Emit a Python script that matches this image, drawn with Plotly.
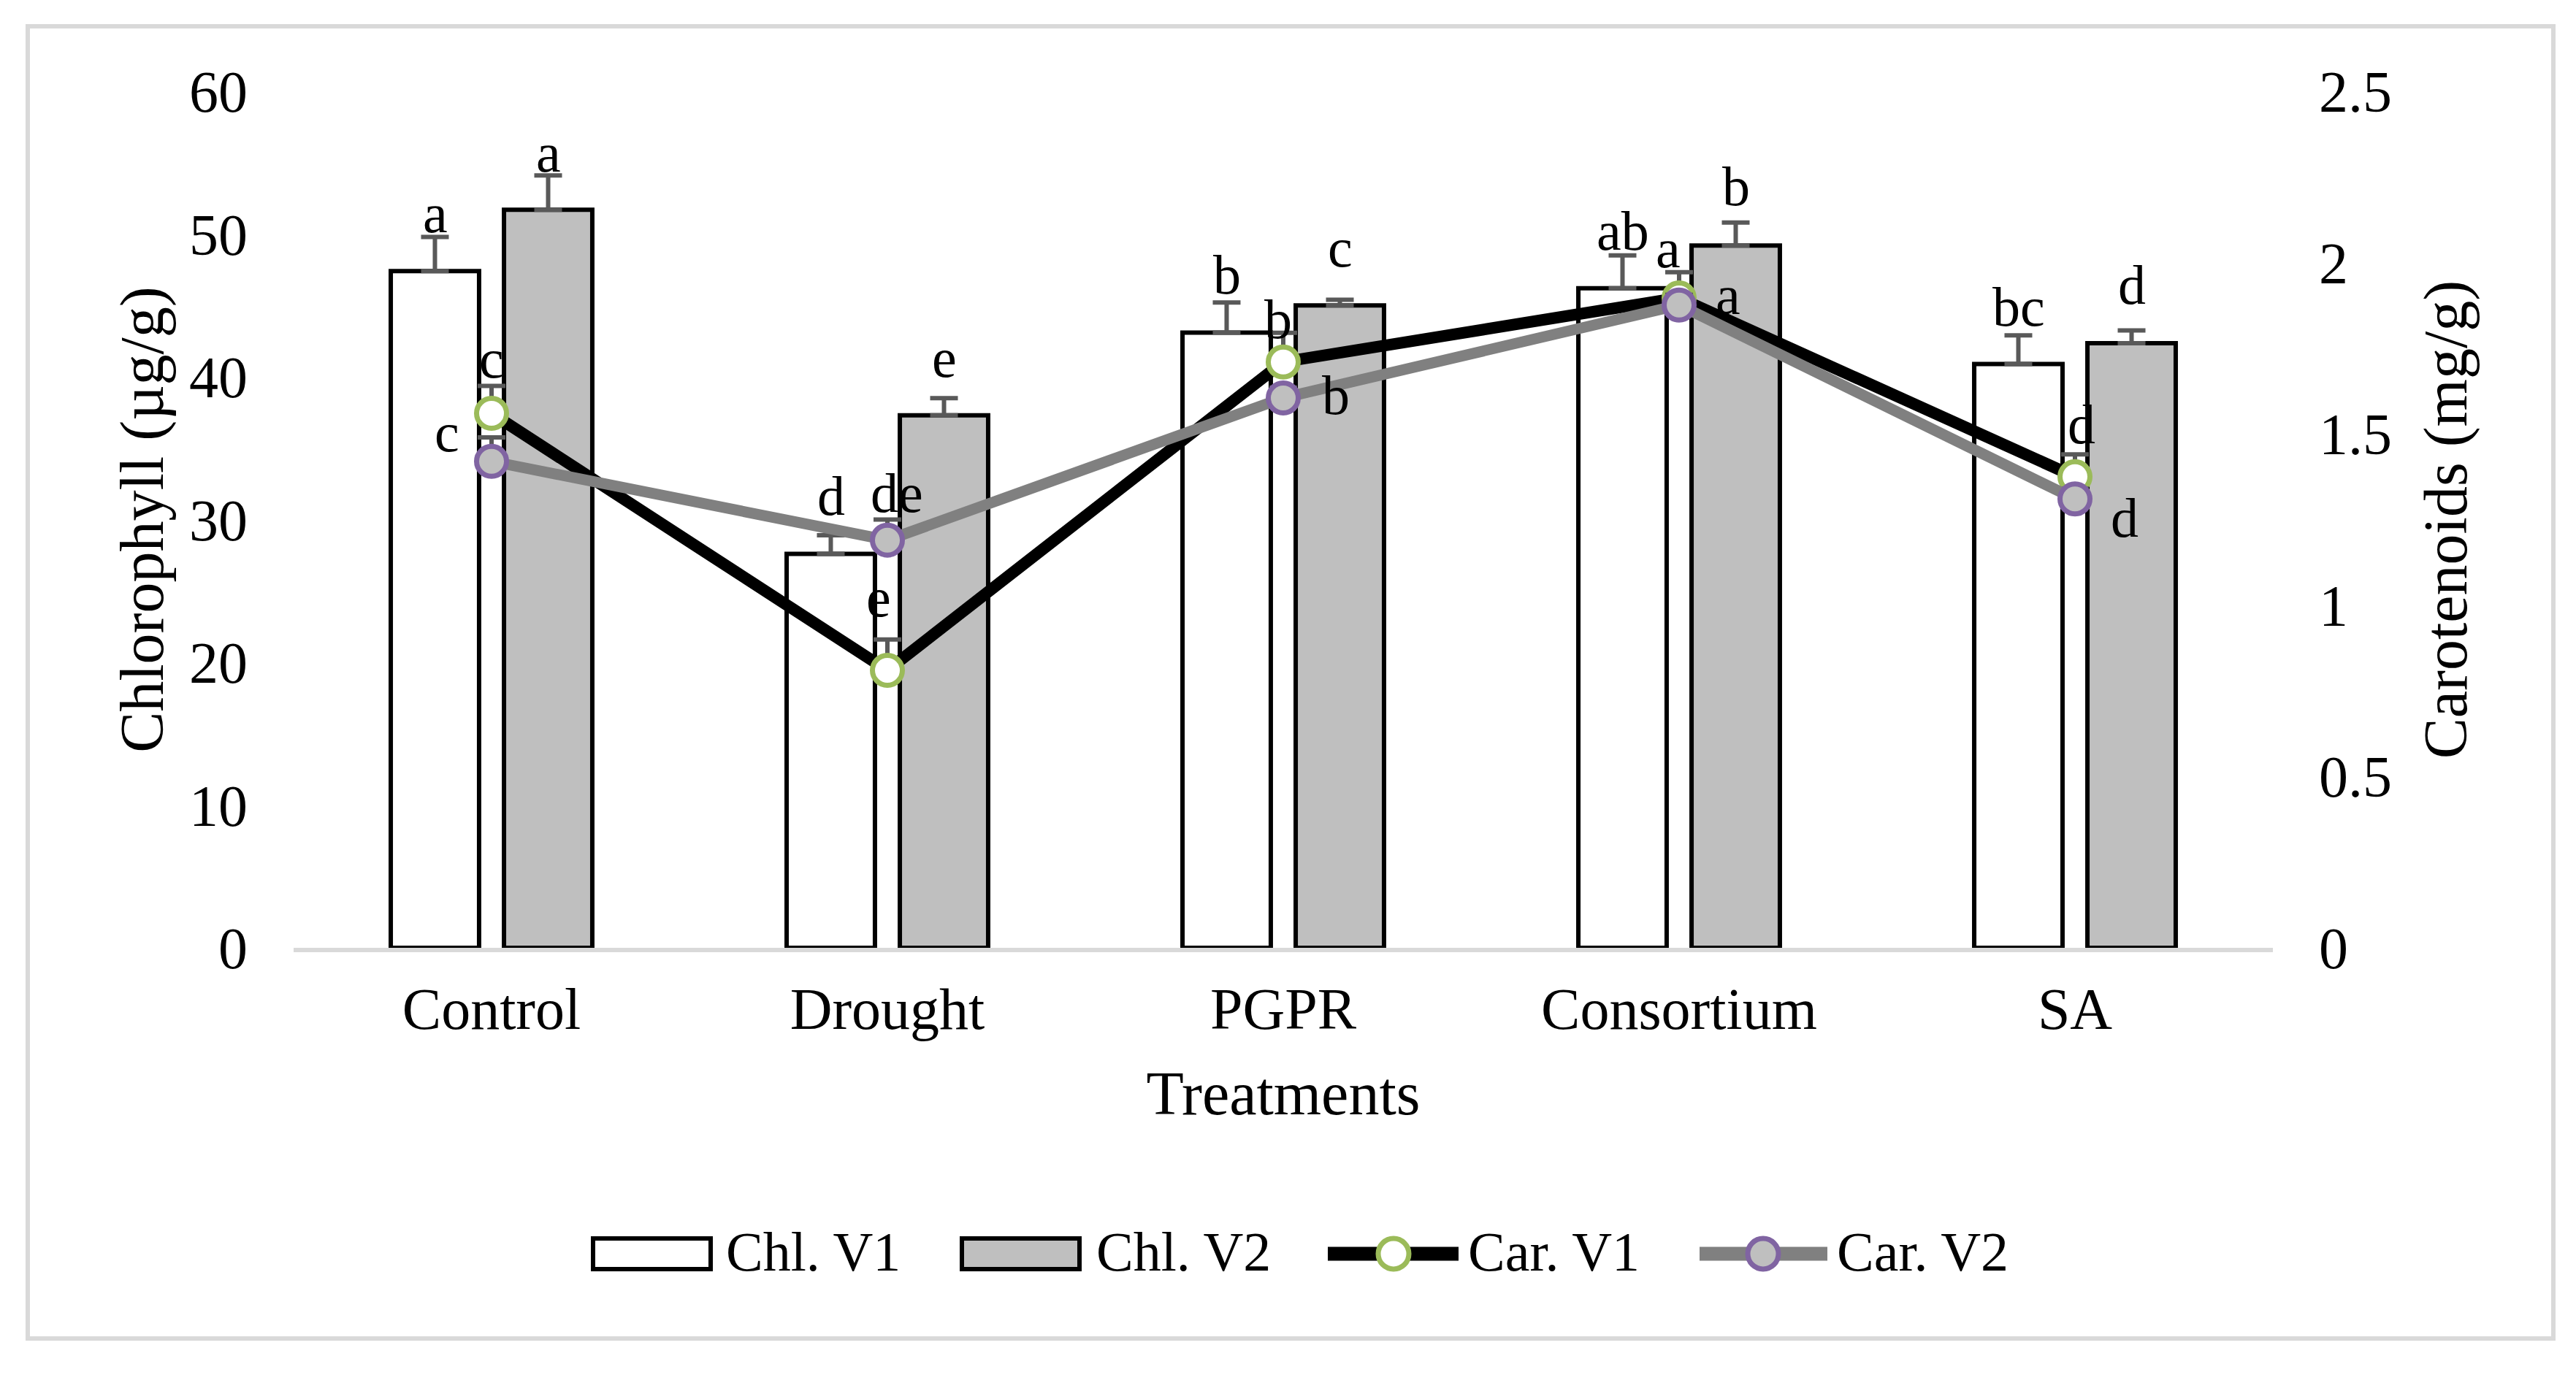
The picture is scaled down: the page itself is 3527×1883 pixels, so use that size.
import plotly.graph_objects as go

# ---------------- data ----------------
categories = ["Control", "Drought", "PGPR", "Consortium", "SA"]

chl_v1 = [47.4, 27.6, 43.1, 46.2, 40.9]
chl_v1_err = [2.4, 1.3, 2.1, 2.3, 2.0]
chl_v2 = [51.7, 37.3, 45.0, 49.2, 42.35]
chl_v2_err = [2.4, 1.2, 0.4, 1.6, 0.9]

car_v1 = [1.56, 0.81, 1.71, 1.897, 1.375]
car_v1_err = [0.08, 0.09, 0.085, 0.075, 0.065]
car_v2 = [1.42, 1.19, 1.605, 1.876, 1.31]
car_v2_err = [0.07, 0.06, 0.03, 0.03, 0.03]

chl_v1_letters = ["a", "d", "b", "ab", "bc"]
chl_v2_letters = ["a", "e", "c", "b", "d"]
car_v1_letters = ["c", "e", "b", "a", "d"]
car_v2_letters = ["c", "de", "b", "a", "d"]

left_ticks = [0, 10, 20, 30, 40, 50, 60]
right_ticks = [0, 0.5, 1, 1.5, 2, 2.5]
right_tick_text = ["0", "0.5", "1", "1.5", "2", "2.5"]

# ---------------- style / layout constants ----------------
OFF = 8  # page body margin compensation
W, H = 3527 - 2 * OFF, 1883 - 2 * OFF
PL, PR, PT, PB = 402 - OFF, 3112 - OFF, 125 - OFF, 1298 - OFF  # plot area in px
FONT = "Times New Roman, Liberation Serif, serif"
TICK_SIZE = 80
TITLE_SIZE = 84
LABEL_SIZE = 76
ERR_COLOR = "#595959"


def px_x(px):
    return (px - OFF - PL) / (PR - PL)


def px_y(py):
    return (PB - (py - OFF)) / (PB - PT)


# label pixel offsets (style)
chl_v1_gap = [7, 29, 13, 9, 14]
chl_v2_gap = [6, 30, 46, 25, 37]
car_v1_off = [(0, 66), (-12, 91), (-7, 50), (-15, 59), (9, 63)]
car_v2_off = [(-61, 31), (13, 56), (72, -5), (67, 5), (68, -35)]
BAR_OFFSET = 77.5

fig = go.Figure()

fig.add_trace(go.Bar(
    name="Chl. V1", x=categories, y=chl_v1,
    marker=dict(color="white", line=dict(color="black", width=6)),
    error_y=dict(type="data", array=chl_v1_err, arrayminus=[0] * 5, symmetric=False,
                 color=ERR_COLOR, thickness=6, width=19),
    yaxis="y", showlegend=False,
))
fig.add_trace(go.Bar(
    name="Chl. V2", x=categories, y=chl_v2,
    marker=dict(color="#BFBFBF", line=dict(color="black", width=6)),
    error_y=dict(type="data", array=chl_v2_err, arrayminus=[0] * 5, symmetric=False,
                 color=ERR_COLOR, thickness=6, width=19),
    yaxis="y", showlegend=False,
))
fig.add_trace(go.Scatter(
    name="Car. V1", x=categories, y=car_v1, mode="lines+markers",
    line=dict(color="black", width=16),
    marker=dict(size=41, color="white", line=dict(color="#9BBB59", width=7)),
    error_y=dict(type="data", array=car_v1_err, arrayminus=[0] * 5, symmetric=False,
                 color=ERR_COLOR, thickness=6, width=19),
    yaxis="y2", showlegend=False,
))
fig.add_trace(go.Scatter(
    name="Car. V2", x=categories, y=car_v2, mode="lines+markers",
    line=dict(color="#808080", width=15),
    marker=dict(size=41, color="#BFBFBF", line=dict(color="#8064A2", width=7)),
    error_y=dict(type="data", array=car_v2_err, arrayminus=[0] * 5, symmetric=False,
                 color=ERR_COLOR, thickness=6, width=19),
    yaxis="y2", showlegend=False,
))

annotations = []
lab_font = dict(family=FONT, size=LABEL_SIZE, color="black")
for i, c in enumerate(categories):
    annotations.append(dict(x=c, y=chl_v1[i] + chl_v1_err[i], xref="x", yref="y",
                            text=chl_v1_letters[i], showarrow=False, xanchor="center",
                            yanchor="bottom", xshift=-BAR_OFFSET, yshift=chl_v1_gap[i] - 19,
                            font=lab_font))
    annotations.append(dict(x=c, y=chl_v2[i] + chl_v2_err[i], xref="x", yref="y",
                            text=chl_v2_letters[i], showarrow=False, xanchor="center",
                            yanchor="bottom", xshift=BAR_OFFSET, yshift=chl_v2_gap[i] - 19,
                            font=lab_font))
    dx, dy = car_v1_off[i]
    annotations.append(dict(x=c, y=car_v1[i], xref="x", yref="y2", text=car_v1_letters[i],
                            showarrow=False, xanchor="center", yanchor="middle",
                            xshift=dx, yshift=dy + 9, font=lab_font))
    dx, dy = car_v2_off[i]
    annotations.append(dict(x=c, y=car_v2[i], xref="x", yref="y2", text=car_v2_letters[i],
                            showarrow=False, xanchor="center", yanchor="middle",
                            xshift=dx, yshift=dy + 9, font=lab_font))

# ---------------- custom legend ----------------
shapes = []
leg_y = px_y(1717)
leg_txt_y = px_y(1714)
leg_font = dict(family=FONT, size=LABEL_SIZE, color="black")
for (bx0, bx1, fill, tx, label) in [(812, 973, "white", 992, "Chl. V1"),
                                      (1317, 1478, "#BFBFBF", 1499, "Chl. V2")]:
    shapes.append(dict(type="rect", xref="paper", yref="paper",
                       x0=px_x(bx0), x1=px_x(bx1), y0=px_y(1738), y1=px_y(1696),
                       fillcolor=fill, line=dict(color="black", width=6), layer="above"))
    annotations.append(dict(x=px_x(tx), y=leg_txt_y, xref="paper", yref="paper", text=label,
                            showarrow=False, xanchor="left", yanchor="middle", font=leg_font))
for (lx0, lx1, mx, tx, lcol, mfill, mline, label) in [
        (1818, 1997, 1908, 2008, "black", "white", "#9BBB59", "Car. V1"),
        (2327, 2502, 2414, 2513, "#808080", "#BFBFBF", "#8064A2", "Car. V2")]:
    shapes.append(dict(type="line", xref="paper", yref="paper",
                       x0=px_x(lx0), x1=px_x(lx1), y0=leg_y, y1=leg_y,
                       line=dict(color=lcol, width=19), layer="above"))
    shapes.append(dict(type="circle", xref="paper", yref="paper",
                       xsizemode="pixel", ysizemode="pixel",
                       xanchor=px_x(mx), yanchor=leg_y,
                       x0=-21, x1=21, y0=-21, y1=21,
                       fillcolor=mfill, line=dict(color=mline, width=7), layer="above"))
    annotations.append(dict(x=px_x(tx), y=leg_txt_y, xref="paper", yref="paper", text=label,
                            showarrow=False, xanchor="left", yanchor="middle", font=leg_font))

# outer border
shapes.append(dict(type="rect", xref="paper", yref="paper",
                   x0=px_x(38), x1=px_x(3496), y0=px_y(1833), y1=px_y(36),
                   line=dict(color="#D9D9D9", width=6), fillcolor="rgba(0,0,0,0)", layer="below"))

fig.update_layout(
    width=W, height=H,
    margin=dict(l=PL, r=W - PR, t=PT, b=H - PB, autoexpand=False),
    paper_bgcolor="white", plot_bgcolor="white",
    barmode="group", bargap=0.428, bargroupgap=0.22,
    font=dict(family=FONT, color="black"),
    xaxis=dict(
        showline=True, linecolor="#D9D9D9", linewidth=6, ticks="", showgrid=False,
        tickfont=dict(family=FONT, size=TICK_SIZE, color="black"), ticklabelstandoff=9,
        title=dict(text="Treatments", font=dict(family=FONT, size=TITLE_SIZE, color="black"),
                   standoff=44),
    ),
    yaxis=dict(
        range=[0, 60], tickvals=left_ticks, showgrid=False, zeroline=False, showline=False,
        ticks="", tickfont=dict(family=FONT, size=TICK_SIZE, color="black"),
        ticklabelstandoff=62,
        title=dict(text="Chlorophyll (µg/g)", font=dict(family=FONT, size=TITLE_SIZE, color="black"),
                   standoff=7),
    ),
    yaxis2=dict(
        range=[0, 2.5], tickvals=right_ticks, ticktext=right_tick_text, overlaying="y",
        side="right", showgrid=False, zeroline=False, showline=False, ticks="",
        tickfont=dict(family=FONT, size=TICK_SIZE, color="black"), ticklabelstandoff=62,
        title=dict(text="Carotenoids (mg/g)", font=dict(family=FONT, size=TITLE_SIZE, color="black"),
                   standoff=44),
    ),
    annotations=annotations,
    shapes=shapes,
)

fig.write_html("out.html")
